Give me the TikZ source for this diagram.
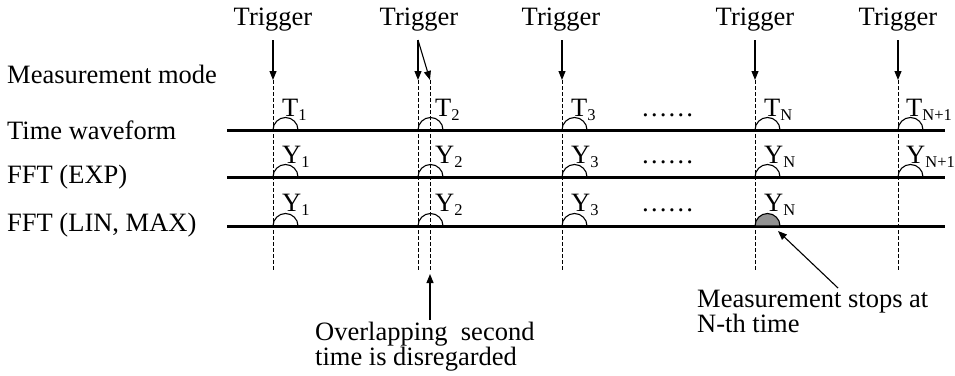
\documentclass[tikz,border=0pt]{standalone}
\usepackage{fontspec}
\setmainfont{Liberation Serif}
\usetikzlibrary{arrows.meta}
\newcommand\sbs[1]{\raisebox{-4.5pt}{\fontsize{16.5}{16.5}\selectfont #1}}
\begin{document}
\begin{tikzpicture}[x=1pt,y=-1pt,
  txt/.style={inner sep=0pt,font=\fontsize{26.5}{24}\selectfont},
  hline/.style={line width=3pt},
  vline/.style={line width=0.9pt,dash pattern=on 4pt off 2pt},
  hump/.style={line width=1.1pt},
  arr/.style={line width=1.1pt,-{Triangle[length=9pt,width=7pt]}},
  lab/.style={txt,anchor=base west}]
\useasboundingbox (0,0) rectangle (955,375);
% left labels
\node[txt,anchor=west] (mm) at (7,74) {Measurement mode};
\node[txt,anchor=west] (tw) at (7,130) {Time waveform};
\node[txt,anchor=west] (fe) at (7,177) {FFT (EXP)};
\node[txt,anchor=west] (fl) at (7,225) {FFT (LIN, MAX)};
% horizontal lines
\foreach \n/\y in {a/130,b/177,c/226}{
  \coordinate (\n L) at (227,\y);
  \coordinate (\n R) at (945,\y);
  \draw[hline] (\n L) -- (\n R);
}
% dashed verticals
\foreach \n/\x in {v1/273,v2/418,v2b/430,v3/562,vN/755,vM/898}{
  \coordinate (\n t) at (\x,80);
  \coordinate (\n b) at (\x,271);
  \draw[vline] (\n t) -- (\n b);
}
% humps
\foreach \x in {273,418,562,755,898}{
  \draw[hump] (\x,130) arc[start angle=180,end angle=0,radius=12.5pt];
  \draw[hump] (\x,177) arc[start angle=180,end angle=0,radius=12.5pt];
}
\foreach \x in {273,418,562}{
  \draw[hump] (\x,226) arc[start angle=180,end angle=0,radius=12.5pt];
}
\filldraw[hump,fill=gray!85] (755,226) arc[start angle=180,end angle=0,radius=12.5pt] -- cycle;
% labels over humps
\node[lab] (T1) at (282,116) {T\sbs{1}};
\node[lab] (T2) at (435,116) {T\sbs{2}};
\node[lab] (T3) at (571,116) {T\sbs{3}};
\node[lab] (TN) at (764,116) {T\sbs{N}};
\node[lab] (TM) at (906,116) {T\sbs{N+1}};
\node[lab] (Y1a) at (282,163) {Y\sbs{1}};
\node[lab] (Y2a) at (435,163) {Y\sbs{2}};
\node[lab] (Y3a) at (571,163) {Y\sbs{3}};
\node[lab] (YNa) at (764,163) {Y\sbs{N}};
\node[lab] (YMa) at (906,163) {Y\sbs{N+1}};
\node[lab] (Y1b) at (282,211) {Y\sbs{1}};
\node[lab] (Y2b) at (435,211) {Y\sbs{2}};
\node[lab] (Y3b) at (571,211) {Y\sbs{3}};
\node[lab] (YNb) at (764,211) {Y\sbs{N}};
% dots
\node[lab] (d1) at (641,116) {……};
\node[lab] (d2) at (641,163) {……};
\node[lab] (d3) at (641,211) {……};
% triggers
\node[txt] (g1) at (273,20) {Trigger};
\node[txt] (g2) at (419,20) {Trigger};
\node[txt] (g3) at (561,20) {Trigger};
\node[txt] (g4) at (755,20) {Trigger};
\node[txt] (g5) at (898,20) {Trigger};
\coordinate (a1) at (273,40);
\coordinate (a2) at (418,40);
\coordinate (a3) at (562,40);
\coordinate (a4) at (755,40);
\coordinate (a5) at (898,40);
\draw[arr] (a1) -- (v1t);
\draw[arr] (a2) -- (v2t);
\draw[arr] (a2) -- (v2bt);
\draw[arr] (a3) -- (v3t);
\draw[arr] (a4) -- (vNt);
\draw[arr] (a5) -- (vMt);
% bottom annotations
\node[txt,anchor=north west,align=left] (ov) at (315,322) {Overlapping\ \ second\\time is disregarded};
\coordinate (ovt) at (430,320);
\coordinate (ovh) at (430,274);
\draw[arr] (ovt) -- (ovh);
\node[txt,anchor=north west,align=left] (ms) at (697,290) {Measurement stops at\\N-th time};
\coordinate (mst) at (838,288);
\coordinate (msh) at (778,231);
\draw[arr] (mst) -- (msh);
\end{tikzpicture}
\end{document}
